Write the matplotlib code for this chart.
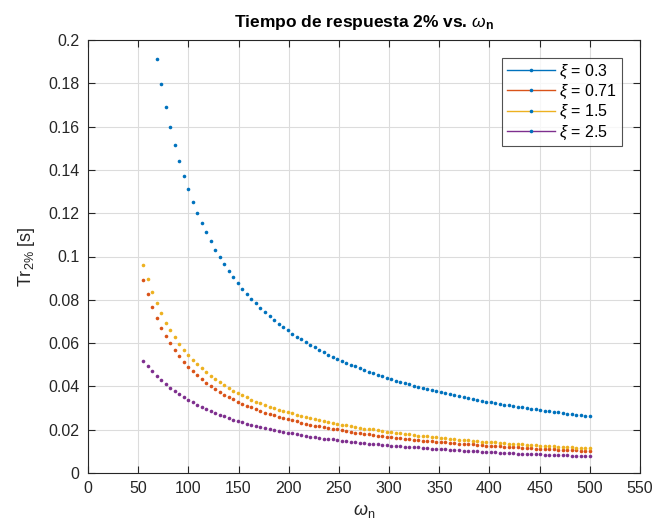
import matplotlib
matplotlib.use("Agg")
import matplotlib.pyplot as plt
from matplotlib.lines import Line2D
from matplotlib.ticker import FuncFormatter

plt.rcParams['font.family'] = ['Liberation Sans', 'DejaVu Sans']
plt.rcParams['mathtext.fontset'] = 'custom'
plt.rcParams['mathtext.rm'] = 'Liberation Sans'
plt.rcParams['mathtext.it'] = 'Liberation Sans:italic'
plt.rcParams['mathtext.bf'] = 'Liberation Sans:bold'

# natural frequency samples
wn = [55.00, 59.49, 63.99, 68.48, 72.98, 77.47, 81.97, 86.46, 90.96, 95.45,
      99.95, 104.44, 108.94, 113.43, 117.93, 122.42, 126.92, 131.41, 135.91, 140.40,
      144.90, 149.39, 153.89, 158.38, 162.88, 167.37, 171.87, 176.36, 180.86, 185.35,
      189.85, 194.34, 198.84, 203.33, 207.83, 212.32, 216.82, 221.31, 225.81, 230.30,
      234.80, 239.29, 243.79, 248.28, 252.78, 257.27, 261.77, 266.26, 270.76, 275.25,
      279.75, 284.24, 288.74, 293.23, 297.73, 302.22, 306.72, 311.21, 315.71, 320.20,
      324.70, 329.19, 333.69, 338.18, 342.68, 347.17, 351.67, 356.16, 360.66, 365.15,
      369.65, 374.14, 378.64, 383.13, 387.63, 392.12, 396.62, 401.11, 405.61, 410.10,
      414.60, 419.09, 423.59, 428.08, 432.58, 437.07, 441.57, 446.06, 450.56, 455.05,
      459.55, 464.04, 468.54, 473.03, 477.53, 482.02, 486.52, 491.01, 495.51, 500.00]

labels = ['0.3', '0.71', '1.5', '2.5']

# xi = 0.3 (first three samples are above the 0.2 axis limit)
tr_03 = [None, None, None, 0.1913, 0.1795, 0.1691, 0.1598, 0.1515, 0.1440, 0.1372,
         0.1311, 0.1254, 0.1202, 0.1155, 0.1111, 0.1070, 0.1032, 0.0997, 0.0964, 0.0933,
         0.0904, 0.0877, 0.0851, 0.0827, 0.0804, 0.0783, 0.0762, 0.0743, 0.0724, 0.0707,
         0.0690, 0.0674, 0.0659, 0.0644, 0.0630, 0.0617, 0.0604, 0.0592, 0.0580, 0.0569,
         0.0558, 0.0547, 0.0537, 0.0528, 0.0518, 0.0509, 0.0500, 0.0492, 0.0484, 0.0476,
         0.0468, 0.0461, 0.0454, 0.0447, 0.0440, 0.0433, 0.0427, 0.0421, 0.0415, 0.0409,
         0.0403, 0.0398, 0.0393, 0.0387, 0.0382, 0.0377, 0.0373, 0.0368, 0.0363, 0.0359,
         0.0354, 0.0350, 0.0346, 0.0342, 0.0338, 0.0334, 0.0330, 0.0327, 0.0323, 0.0319,
         0.0316, 0.0313, 0.0309, 0.0306, 0.0303, 0.0300, 0.0297, 0.0294, 0.0291, 0.0288,
         0.0285, 0.0282, 0.0280, 0.0277, 0.0274, 0.0272, 0.0269, 0.0267, 0.0264, 0.0262]

tr_071 = [0.0892, 0.0826, 0.0766, 0.0715, 0.0672, 0.0632, 0.0599, 0.0568, 0.0540, 0.0514,
          0.0491, 0.0471, 0.0451, 0.0432, 0.0417, 0.0402, 0.0388, 0.0374, 0.0362, 0.0351,
          0.0340, 0.0329, 0.0320, 0.0311, 0.0303, 0.0294, 0.0286, 0.0279, 0.0273, 0.0266,
          0.0260, 0.0255, 0.0249, 0.0243, 0.0238, 0.0233, 0.0228, 0.0224, 0.0219, 0.0215,
          0.0211, 0.0208, 0.0204, 0.0201, 0.0197, 0.0194, 0.0190, 0.0187, 0.0184, 0.0181,
          0.0178, 0.0176, 0.0173, 0.0171, 0.0168, 0.0166, 0.0163, 0.0161, 0.0159, 0.0156,
          0.0154, 0.0152, 0.0150, 0.0148, 0.0146, 0.0144, 0.0142, 0.0141, 0.0139, 0.0137,
          0.0136, 0.0135, 0.0133, 0.0132, 0.0130, 0.0129, 0.0127, 0.0126, 0.0124, 0.0123,
          0.0122, 0.0120, 0.0119, 0.0118, 0.0117, 0.0115, 0.0114, 0.0113, 0.0112, 0.0111,
          0.0110, 0.0109, 0.0108, 0.0107, 0.0106, 0.0105, 0.0104, 0.0103, 0.0102, 0.0101]

tr_15 = [0.0963, 0.0894, 0.0835, 0.0783, 0.0739, 0.0695, 0.0660, 0.0628, 0.0597, 0.0569,
         0.0546, 0.0523, 0.0502, 0.0483, 0.0465, 0.0448, 0.0432, 0.0419, 0.0406, 0.0394,
         0.0380, 0.0369, 0.0359, 0.0349, 0.0339, 0.0329, 0.0322, 0.0314, 0.0306, 0.0300,
         0.0293, 0.0288, 0.0282, 0.0275, 0.0269, 0.0264, 0.0258, 0.0253, 0.0248, 0.0243,
         0.0239, 0.0236, 0.0232, 0.0228, 0.0224, 0.0220, 0.0216, 0.0212, 0.0209, 0.0205,
         0.0202, 0.0201, 0.0197, 0.0194, 0.0191, 0.0189, 0.0186, 0.0183, 0.0181, 0.0178,
         0.0176, 0.0173, 0.0171, 0.0169, 0.0166, 0.0164, 0.0162, 0.0160, 0.0158, 0.0156,
         0.0154, 0.0152, 0.0151, 0.0149, 0.0147, 0.0145, 0.0144, 0.0142, 0.0141, 0.0139,
         0.0137, 0.0136, 0.0135, 0.0133, 0.0132, 0.0130, 0.0129, 0.0128, 0.0126, 0.0125,
         0.0124, 0.0123, 0.0122, 0.0120, 0.0119, 0.0118, 0.0117, 0.0116, 0.0115, 0.0114]

tr_25 = [0.0516, 0.0492, 0.0471, 0.0449, 0.0429, 0.0411, 0.0394, 0.0379, 0.0363, 0.0351,
         0.0339, 0.0326, 0.0316, 0.0305, 0.0294, 0.0285, 0.0277, 0.0269, 0.0262, 0.0254,
         0.0246, 0.0240, 0.0234, 0.0228, 0.0222, 0.0217, 0.0211, 0.0206, 0.0202, 0.0199,
         0.0194, 0.0191, 0.0187, 0.0183, 0.0179, 0.0175, 0.0172, 0.0168, 0.0165, 0.0162,
         0.0158, 0.0158, 0.0155, 0.0152, 0.0150, 0.0147, 0.0144, 0.0142, 0.0140, 0.0137,
         0.0135, 0.0134, 0.0132, 0.0130, 0.0128, 0.0126, 0.0125, 0.0123, 0.0121, 0.0119,
         0.0118, 0.0118, 0.0116, 0.0114, 0.0113, 0.0111, 0.0110, 0.0109, 0.0107, 0.0106,
         0.0105, 0.0103, 0.0102, 0.0101, 0.0100, 0.0099, 0.0098, 0.0096, 0.0095, 0.0094,
         0.0093, 0.0092, 0.0091, 0.0090, 0.0089, 0.0089, 0.0088, 0.0087, 0.0086, 0.0085,
         0.0084, 0.0083, 0.0083, 0.0082, 0.0081, 0.0080, 0.0080, 0.0079, 0.0078, 0.0077]

series = [tr_03, tr_071, tr_15, tr_25]
colors = ['#0072BD', '#D95319', '#EDB120', '#7E2F8E']

xticks = [0, 50, 100, 150, 200, 250, 300, 350, 400, 450, 500, 550]
yticks = [0, 0.02, 0.04, 0.06, 0.08, 0.1, 0.12, 0.14, 0.16, 0.18, 0.2]

fig = plt.figure(figsize=(6.54, 5.32), dpi=100)
ax = fig.add_axes([88/654, 1-473/532, (640-88)/654, (473-40)/532])

for ys, c in zip(series, colors):
    px = [x for x, y in zip(wn, ys) if y is not None]
    py = [y for y in ys if y is not None]
    ax.plot(px, py, linestyle='none', marker='o', markersize=2.6,
            markeredgewidth=0, color=c, zorder=3)

ax.set_xlim(0, 550)
ax.set_ylim(0, 0.2)
ax.set_xticks(xticks)
ax.set_yticks(yticks)
fmt = FuncFormatter(lambda v, p: ('%g' % round(v, 4)))
ax.xaxis.set_major_formatter(fmt)
ax.yaxis.set_major_formatter(fmt)

axcol = '#262626'
ax.grid(True, color='#dcdcdc', linewidth=0.8, zorder=0)
ax.set_axisbelow(True)
for s in ax.spines.values():
    s.set_color(axcol)
    s.set_linewidth(0.8)
ax.tick_params(direction='in', length=5, width=0.8, colors=axcol,
               labelsize=11.5, top=True, right=True, pad=6)

ax.set_title(r'Tiempo de respuesta 2% vs. $\omega_{\mathbf{n}}$',
             fontsize=12.5, fontweight='bold', color='black', pad=9)
ax.set_xlabel(r'$\omega_{\mathrm{n}}$', fontsize=13, color=axcol, labelpad=4)
ax.set_ylabel(r'Tr$_{\mathrm{2\%}}$ [s]', fontsize=13, color=axcol, labelpad=8)

handles = [Line2D([0], [0], color=c, linewidth=1.0, marker='o', markersize=2.6,
                  markerfacecolor='#0072BD', markeredgewidth=0)
           for c in colors]
leg = ax.legend(handles, [r'$\xi$ = ' + l for l in labels], loc='upper right',
                bbox_to_anchor=(622/654, 1-58/532), bbox_transform=fig.transFigure,
                fontsize=11.5, frameon=True, fancybox=False, borderpad=0.3,
                handlelength=3.0, handletextpad=0.3, labelspacing=0.12,
                borderaxespad=0)
leg.get_frame().set_edgecolor(axcol)
leg.get_frame().set_linewidth(0.8)

fig.savefig('out.png', dpi=100, facecolor='white')
